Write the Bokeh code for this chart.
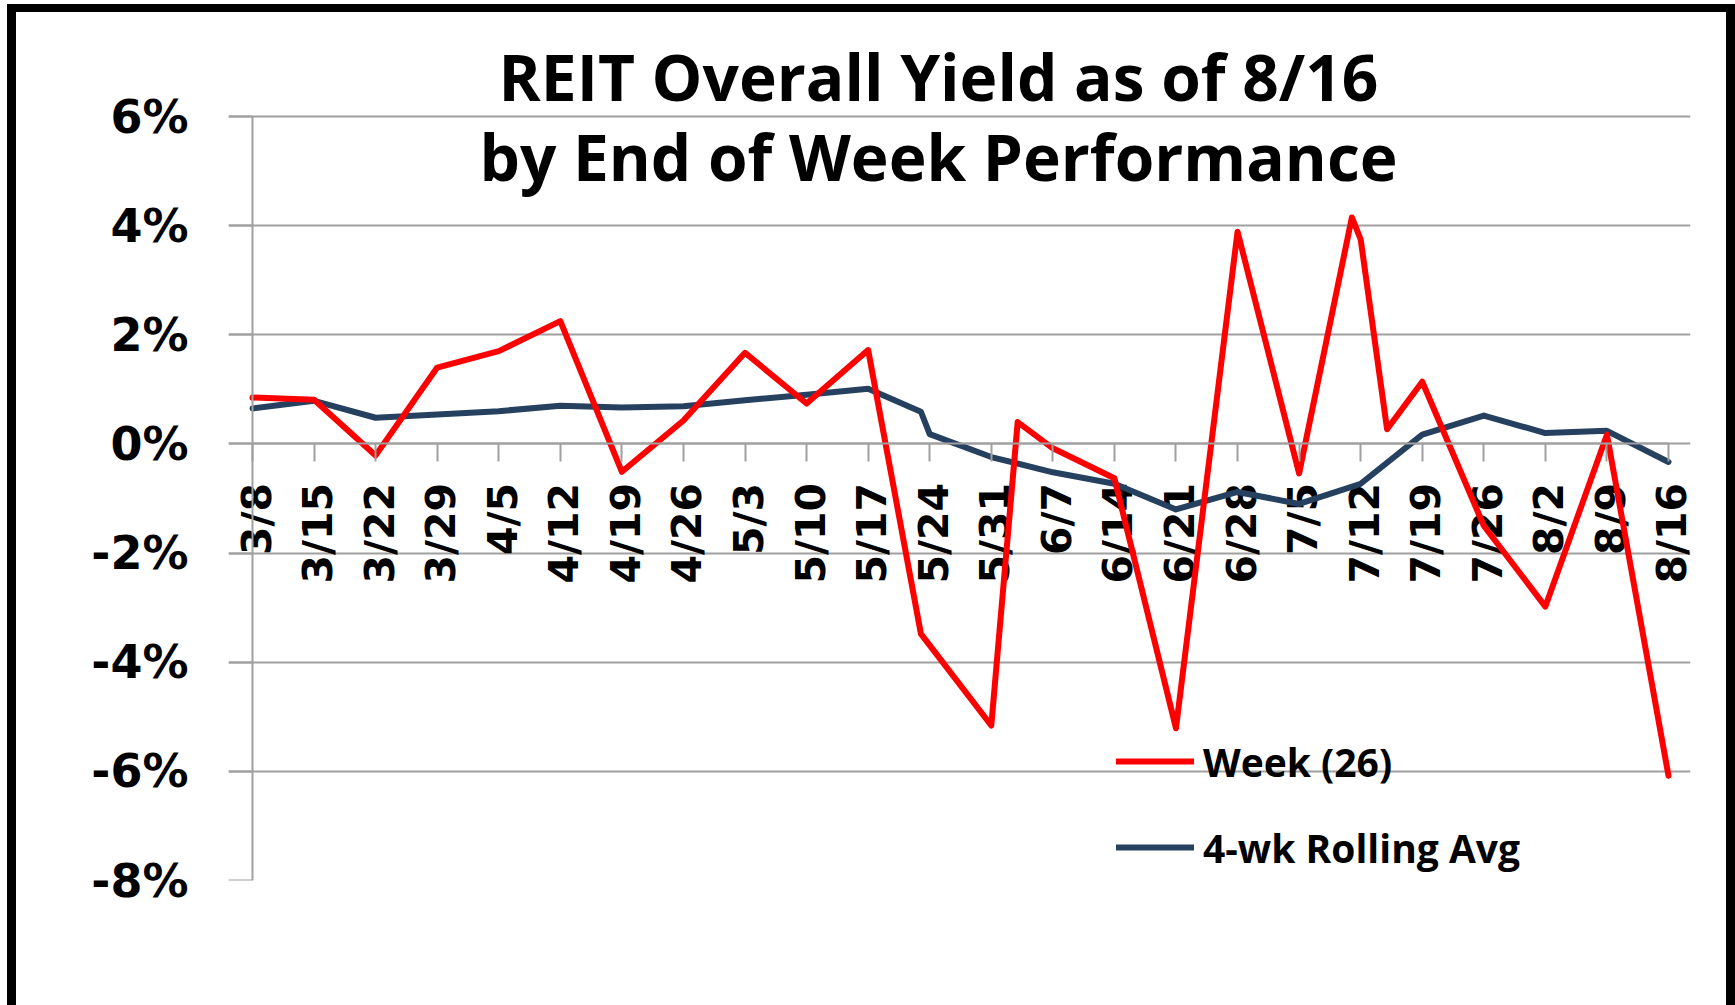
import numpy as np
import pandas as pd
from bokeh.plotting import figure
from bokeh.layouts import column
from bokeh.models import (Range1d, FixedTicker, PrintfTickFormatter, Legend,
                          LegendItem, Label, ColumnDataSource, LinearAxis)
from bokeh.core.properties import value
from bokeh.embed import file_html
from bokeh.resources import INLINE

YEAR = 2013

# x-axis category labels (week ending Fridays)
tick_labels = ["3/8", "3/15", "3/22", "3/29", "4/5", "4/12", "4/19", "4/26",
               "5/3", "5/10", "5/17", "5/24", "5/31", "6/7", "6/14", "6/21",
               "6/28", "7/5", "7/12", "7/19", "7/26", "8/2", "8/9", "8/16"]

# Series 1: Week (26)
week_dates = ["3/8", "3/15", "3/22", "3/29", "4/5", "4/12", "4/19", "4/26",
              "5/3", "5/10", "5/17", "5/23", "5/31", "6/3", "6/7", "6/14",
              "6/21", "6/28", "7/5", "7/11", "7/12", "7/15", "7/19", "7/26",
              "8/2", "8/9", "8/16"]
week_values = [0.85, 0.81, -0.21, 1.40, 1.70, 2.25, -0.51, 0.43,
               1.67, 0.74, 1.72, -3.48, -5.16, 0.40, -0.08, -0.63,
               -5.21, 3.89, -0.54, 4.15, 3.75, 0.27, 1.14, -1.50,
               -2.98, 0.17, -6.08]

# Series 2: 4-wk Rolling Avg
avg_dates = ["3/8", "3/15", "3/22", "3/29", "4/5", "4/12", "4/19", "4/26",
             "5/3", "5/10", "5/17", "5/23", "5/24", "5/31", "6/7", "6/14",
             "6/21", "6/28", "7/5", "7/12", "7/19", "7/26", "8/2", "8/9",
             "8/16"]
avg_values = [0.65, 0.79, 0.48, 0.54, 0.60, 0.70, 0.67, 0.69,
              0.80, 0.90, 1.01, 0.59, 0.18, -0.24, -0.52, -0.73,
              -1.20, -0.88, -1.10, -0.73, 0.17, 0.52, 0.20, 0.24,
              -0.33]

y_ticks = [-8, -6, -4, -2, 0, 2, 4, 6]

start = pd.Timestamp(YEAR, 3, 8)


def to_days(labels):
    d = pd.to_datetime([f"{YEAR}/{s}" for s in labels], format="%Y/%m/%d")
    return [int(v) for v in (d - start).days]


tick_days = to_days(tick_labels)
week_days = to_days(week_dates)
avg_days = to_days(avg_dates)

# ---- geometry (pixels) ----
W, H = 1710, 993
PX_PER_DAY = 8.795
PX_PER_PCT = 54.57
LEFT_PAD_PX, RIGHT_PAD_PX = 24, 22   # plot area runs a little past first/last date
BORDER_LEFT, BORDER_RIGHT, BORDER_TOP, BORDER_BOTTOM = 212, 36, 0, 125

x_start = tick_days[0] - LEFT_PAD_PX / PX_PER_DAY
x_end = tick_days[-1] + RIGHT_PAD_PX / PX_PER_DAY
frame_h = H - BORDER_TOP - BORDER_BOTTOM
y_start = y_ticks[0]
y_end = y_start + frame_h / PX_PER_PCT

GRID = "#A0A0A0"

p = figure(width=W, height=H, title=None,
           x_range=Range1d(x_start, x_end), y_range=Range1d(y_start, y_end),
           output_backend="svg", toolbar_location=None,
           min_border_left=BORDER_LEFT, min_border_right=BORDER_RIGHT,
           min_border_top=BORDER_TOP, min_border_bottom=BORDER_BOTTOM)
p.background_fill_color = "white"
p.border_fill_color = "white"
p.outline_line_color = None

# horizontal gridlines
p.xgrid.visible = False
p.ygrid.ticker = FixedTicker(ticks=y_ticks)
p.ygrid.grid_line_color = GRID
p.ygrid.grid_line_width = 2

# y axis labels (outer edge of plot area)
yax = p.yaxis[0]
yax.ticker = FixedTicker(ticks=y_ticks)
yax.formatter = PrintfTickFormatter(format="%d%%")
yax.axis_line_color = None
yax.major_tick_line_color = None
yax.major_tick_out = 0
yax.major_tick_in = 0
yax.minor_tick_line_color = None
yax.major_label_standoff = 40
yax.major_label_text_font = "DejaVu Sans"
yax.major_label_text_font_style = "bold"
yax.major_label_text_font_size = "46px"
yax.major_label_text_color = "black"

# y axis line + ticks, drawn at the first date
yline = LinearAxis(fixed_location=tick_days[0], bounds=(y_ticks[0], y_ticks[-1]),
                   ticker=FixedTicker(ticks=y_ticks),
                   major_label_overrides={t: "" for t in y_ticks},
                   major_label_standoff=0,
                   axis_line_color=GRID, axis_line_width=2,
                   major_tick_line_color=GRID, major_tick_line_width=2,
                   major_tick_out=24, major_tick_in=0,
                   minor_tick_line_color=None)
p.add_layout(yline, "left")

# x axis drawn at y = 0
xax = p.xaxis[0]
xax.fixed_location = 0
xax.bounds = (tick_days[0], tick_days[-1])
xax.ticker = FixedTicker(ticks=tick_days)
xax.major_label_overrides = {d: "" for d in tick_days}
xax.major_label_standoff = 0
xax.axis_line_color = GRID
xax.axis_line_width = 2
xax.major_tick_line_color = GRID
xax.major_tick_line_width = 2
xax.major_tick_out = 18
xax.major_tick_in = 0
xax.minor_tick_line_color = None

# tick labels of the x axis (rotated, hanging below the zero line)
lab_src = ColumnDataSource(dict(x=tick_days, y=[0] * len(tick_days), text=tick_labels))
p.text(x="x", y="y", text="text", source=lab_src, angle=np.pi / 2,
       text_align="right", text_baseline="middle", x_offset=4, y_offset=39,
       text_font=value("DejaVu Sans"), text_font_style="bold",
       text_font_size="41px", text_color="black")

# series
blue = p.line(avg_days, avg_values, line_color="#264060", line_width=6,
              line_join="round", line_cap="round")
red = p.line(week_days, week_values, line_color="#FF0000", line_width=6,
             line_join="round", line_cap="round")

legend = Legend(items=[LegendItem(label="Week (26)", renderers=[red]),
                       LegendItem(label="4-wk Rolling Avg", renderers=[blue])],
                location=(888, 3), orientation="vertical",
                background_fill_alpha=0, border_line_alpha=0,
                padding=0, margin=0, spacing=26,
                glyph_width=78, glyph_height=60, label_height=60,
                label_standoff=9,
                label_text_font="Open Sans", label_text_font_style="bold",
                label_text_font_size="39px", label_text_color="black")
p.add_layout(legend)

# chart title, overlapping the top of the plot area as in the original
title_x = 78.0
for txt, ty in [("REIT Overall Yield as of 8/16", 6.74),
                ("by End of Week Performance", 5.27)]:
    p.add_layout(Label(x=title_x, y=ty, text=txt, text_align="center",
                       text_baseline="alphabetic", text_font="Open Sans",
                       text_font_style="bold", text_font_size="64px",
                       text_color="black"))

page = column(p, styles={"box-sizing": "content-box", "margin": "4px 0px 0px 7px",
                         "border-top": "8px solid black",
                         "border-left": "9px solid black",
                         "border-right": "9px solid black"})

open("out.html", "w").write(file_html(page, INLINE))
